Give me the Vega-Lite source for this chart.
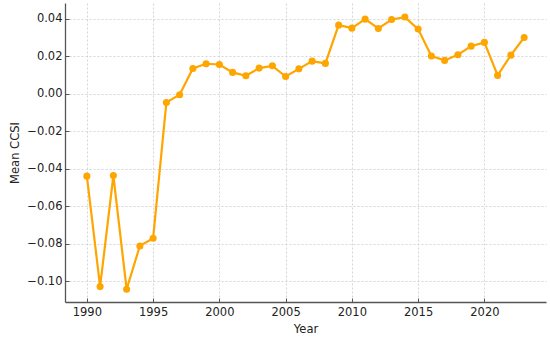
{
  "$schema": "https://vega.github.io/schema/vega-lite/v6.json",
  "width": 481,
  "height": 299,
  "autosize": {"type": "none"},
  "padding": {"left": 65, "top": 3, "right": 4, "bottom": 35},
  "config": {
    "view": {"stroke": null},
    "font": "DejaVu Sans",
    "axis": {
      "labelFont": "DejaVu Sans",
      "titleFont": "DejaVu Sans",
      "labelFontSize": 11.5,
      "titleFontSize": 11.5,
      "titleFontWeight": "normal",
      "labelColor": "#222",
      "titleColor": "#222",
      "domainColor": "#555",
      "domainWidth": 1.3,
      "tickColor": "#555",
      "tickSize": -4,
      "gridColor": "#cccccc",
      "gridDash": [2, 2],
      "gridWidth": 0.8
    }
  },
  "data": {
    "values": [
      {"Year": 1990, "CCSI": -0.0439},
      {"Year": 1991, "CCSI": -0.1028},
      {"Year": 1992, "CCSI": -0.0436},
      {"Year": 1993, "CCSI": -0.1042},
      {"Year": 1994, "CCSI": -0.0811},
      {"Year": 1995, "CCSI": -0.0770},
      {"Year": 1996, "CCSI": -0.0046},
      {"Year": 1997, "CCSI": -0.0005},
      {"Year": 1998, "CCSI": 0.0135},
      {"Year": 1999, "CCSI": 0.0160},
      {"Year": 2000, "CCSI": 0.0156},
      {"Year": 2001, "CCSI": 0.0114},
      {"Year": 2002, "CCSI": 0.0096},
      {"Year": 2003, "CCSI": 0.0137},
      {"Year": 2004, "CCSI": 0.0149},
      {"Year": 2005, "CCSI": 0.0092},
      {"Year": 2006, "CCSI": 0.0133},
      {"Year": 2007, "CCSI": 0.0174},
      {"Year": 2008, "CCSI": 0.0162},
      {"Year": 2009, "CCSI": 0.0366},
      {"Year": 2010, "CCSI": 0.0350},
      {"Year": 2011, "CCSI": 0.0398},
      {"Year": 2012, "CCSI": 0.0348},
      {"Year": 2013, "CCSI": 0.0396},
      {"Year": 2014, "CCSI": 0.0409},
      {"Year": 2015, "CCSI": 0.0345},
      {"Year": 2016, "CCSI": 0.0201},
      {"Year": 2017, "CCSI": 0.0178},
      {"Year": 2018, "CCSI": 0.0208},
      {"Year": 2019, "CCSI": 0.0254},
      {"Year": 2020, "CCSI": 0.0274},
      {"Year": 2021, "CCSI": 0.0098},
      {"Year": 2022, "CCSI": 0.0206},
      {"Year": 2023, "CCSI": 0.0300}
    ]
  },
  "mark": {"type": "line", "color": "#FFA500", "strokeWidth": 2.2, "point": {"filled": true, "size": 50, "color": "#FFA500", "opacity": 1}},
  "encoding": {
    "x": {
      "field": "Year", "type": "quantitative",
      "scale": {"domain": [1988.35, 2024.65], "nice": false, "zero": false},
      "axis": {"values": [1990, 1995, 2000, 2005, 2010, 2015, 2020], "format": "d", "title": "Year", "titlePadding": 6, "labelPadding": 8}
    },
    "y": {
      "field": "CCSI", "type": "quantitative",
      "scale": {"domain": [-0.1110, 0.0484], "nice": false, "zero": false},
      "axis": {"values": [-0.10, -0.08, -0.06, -0.04, -0.02, 0.0, 0.02, 0.04], "format": ".2f", "title": "Mean CCSI", "titlePadding": 6, "labelPadding": 7}
    }
  }
}
